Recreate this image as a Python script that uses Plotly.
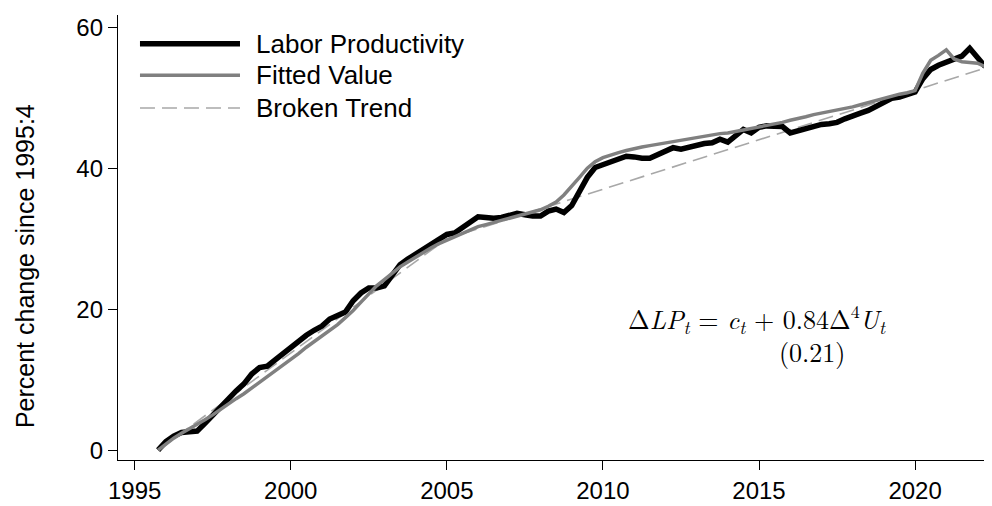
import numpy as np
import plotly.graph_objects as go

# Quarterly dates 1995:4 .. 2022:2
start_year = 1995.75
labor_productivity = [
    0.0,
    1.2, 2.0, 2.5, 2.6,      # 1996
    2.7, 3.8, 5.0, 6.2,      # 1997
    7.2, 8.4, 9.4, 10.8,     # 1998
    11.7, 11.9, 12.8, 13.7,  # 1999
    14.5, 15.6, 16.3, 17.0,  # 2000
    17.6, 18.6, 19.1, 19.6,  # 2001
    21.2, 22.3, 23.0, 23.0,  # 2002
    23.3, 24.9, 26.3, 27.1,  # 2003
    27.8, 28.6, 29.3, 30.1,  # 2004
    30.6, 30.8, 31.5, 32.3,  # 2005
    33.1, 33.0, 32.9, 33.0,  # 2006
    33.3, 33.6, 33.4, 33.2,  # 2007
    33.2, 33.9, 34.2, 33.7,  # 2008
    34.7, 36.6, 38.7, 40.1,  # 2009
    40.5, 41.0, 41.3, 41.7,  # 2010
    41.6, 41.4, 41.4, 41.9,  # 2011
    42.4, 42.9, 42.7, 43.0,  # 2012
    43.2, 43.5, 43.6, 44.1,  # 2013
    43.7, 44.5, 45.5, 45.0,  # 2014
    45.8, 46.0, 45.9, 45.9,  # 2015
    45.0, 45.3, 45.7, 45.9,  # 2016
    46.2, 46.3, 46.5, 47.0,  # 2017
    47.3, 47.8, 48.2, 48.8,  # 2018
    49.3, 49.9, 50.1, 50.4,  # 2019
    50.8, 52.7, 54.0, 54.6,  # 2020
    55.0, 55.4, 55.9, 57.0,  # 2021
    55.7, 54.4,              # 2022
]
fitted_value = [
    0.0,
    0.9, 1.7, 2.4, 3.0,      # 1996
    3.6, 4.3, 5.0, 5.8,      # 1997
    6.5, 7.3, 8.0, 8.8,      # 1998
    9.6, 10.4, 11.2, 12.0,   # 1999
    12.8, 13.7, 14.6, 15.4,  # 2000
    16.2, 17.0, 17.8, 18.8,  # 2001
    19.8, 21.0, 22.2, 23.3,  # 2002
    24.2, 25.1, 26.0, 26.7,  # 2003
    27.4, 28.1, 28.7, 29.3,  # 2004
    29.8, 30.3, 30.8, 31.3,  # 2005
    31.7, 32.0, 32.3, 32.6,  # 2006
    32.9, 33.2, 33.5, 33.8,  # 2007
    34.1, 34.6, 35.2, 36.2,  # 2008
    37.4, 38.7, 40.0, 40.9,  # 2009
    41.5, 41.9, 42.2, 42.5,  # 2010
    42.8, 43.0, 43.2, 43.4,  # 2011
    43.6, 43.8, 44.0, 44.2,  # 2012
    44.4, 44.6, 44.7, 44.9,  # 2013
    45.0, 45.2, 45.4, 45.6,  # 2014
    45.8, 46.0, 46.3, 46.5,  # 2015
    46.8, 47.0, 47.3, 47.6,  # 2016
    47.8, 48.0, 48.2, 48.4,  # 2017
    48.7, 49.0, 49.3, 49.6,  # 2018
    50.0, 50.3, 50.5, 50.7,  # 2019
    51.0, 53.5, 55.3, 56.0,  # 2020
    56.8, 55.5, 55.1, 55.0,  # 2021
    54.9, 54.4,              # 2022
]
quarters = start_year + 0.25 * np.arange(len(labor_productivity))

trend_years = [1995.75, 2005.0, 2022.25]
trend_values = [0.0, 30.0, 54.2]

x_ticks = [1995, 2000, 2005, 2010, 2015, 2020]
y_ticks = [0, 20, 40, 60]
legend_labels = ["Labor Productivity", "Fitted Value", "Broken Trend"]
y_title = "Percent change since 1995:4"

FONT = "Liberation Sans, Arial, sans-serif"
C_LP, C_FIT, C_TR = "#000000", "#808080", "#a8a8a8"

fig = go.Figure()
fig.add_trace(go.Scatter(x=trend_years, y=trend_values, mode="lines",
                         line=dict(color=C_TR, width=1.6, dash="15px,7px"),
                         showlegend=False))
fig.add_trace(go.Scatter(x=quarters, y=labor_productivity, mode="lines",
                         line=dict(color=C_LP, width=5.5), showlegend=False))
fig.add_trace(go.Scatter(x=quarters, y=fitted_value, mode="lines",
                         line=dict(color=C_FIT, width=3.5), showlegend=False))

# manual legend (long line samples like the original)
leg_y = [0.9356, 0.8644, 0.7911]
leg_styles = [dict(color=C_LP, width=5.5), dict(color=C_FIT, width=3.5),
              dict(color=C_TR, width=1.6, dash="15px,7px")]
for lbl, yy, st in zip(legend_labels, leg_y, leg_styles):
    fig.add_shape(type="line", xref="paper", yref="paper",
                  x0=0.0252, x1=0.1399, y0=yy, y1=yy, line=st)
    fig.add_annotation(xref="paper", yref="paper", x=0.156, y=yy,
                       text=lbl, showarrow=False, xanchor="left", yanchor="middle",
                       font=dict(family=FONT, size=26, color="#000"))

# equation
SERIF = "Latin Modern Roman, CMU Serif, DejaVu Serif, serif"
fig.add_annotation(xref="paper", yref="paper", x=0.733, y=0.318,
                   text="Δ<i>LP</i><sub><i>t</i></sub> = <i>c</i><sub><i>t</i></sub> + 0.84Δ<sup>4</sup><i>U</i><sub><i>t</i></sub>",
                   showarrow=False, xanchor="center", yanchor="middle",
                   font=dict(family=SERIF, size=26, color="#000"))
fig.add_annotation(xref="paper", yref="paper", x=0.796, y=0.2440,
                   text="(0.21)", showarrow=False, xanchor="center", yanchor="middle",
                   font=dict(family=SERIF, size=26, color="#000"))

# y-axis title (placed like the original, slightly below the plot centre)
fig.add_annotation(xref="paper", yref="paper", x=-0.1067, y=0.4356,
                   text=y_title, textangle=-90, showarrow=False,
                   xanchor="center", yanchor="middle",
                   font=dict(family=FONT, size=25, color="#000"))

axis_common = dict(showgrid=False, zeroline=False, showline=True, linecolor="#000",
                   linewidth=1.4, ticks="outside", ticklen=9, tickwidth=1.4,
                   tickcolor="#000", tickfont=dict(family=FONT, size=24, color="#000"))
fig.update_xaxes(range=[1994.466, 2022.40], tickvals=x_ticks, **axis_common)
fig.update_yaxes(range=[-1.40, 61.73], tickvals=y_ticks, **axis_common)

# page body has an 8px default margin: size the figure to fit the window
fig.update_layout(width=984, height=498, plot_bgcolor="white", paper_bgcolor="white",
                  margin=dict(l=110, r=2, t=7, b=41), showlegend=False)

fig.write_html("out.html")
